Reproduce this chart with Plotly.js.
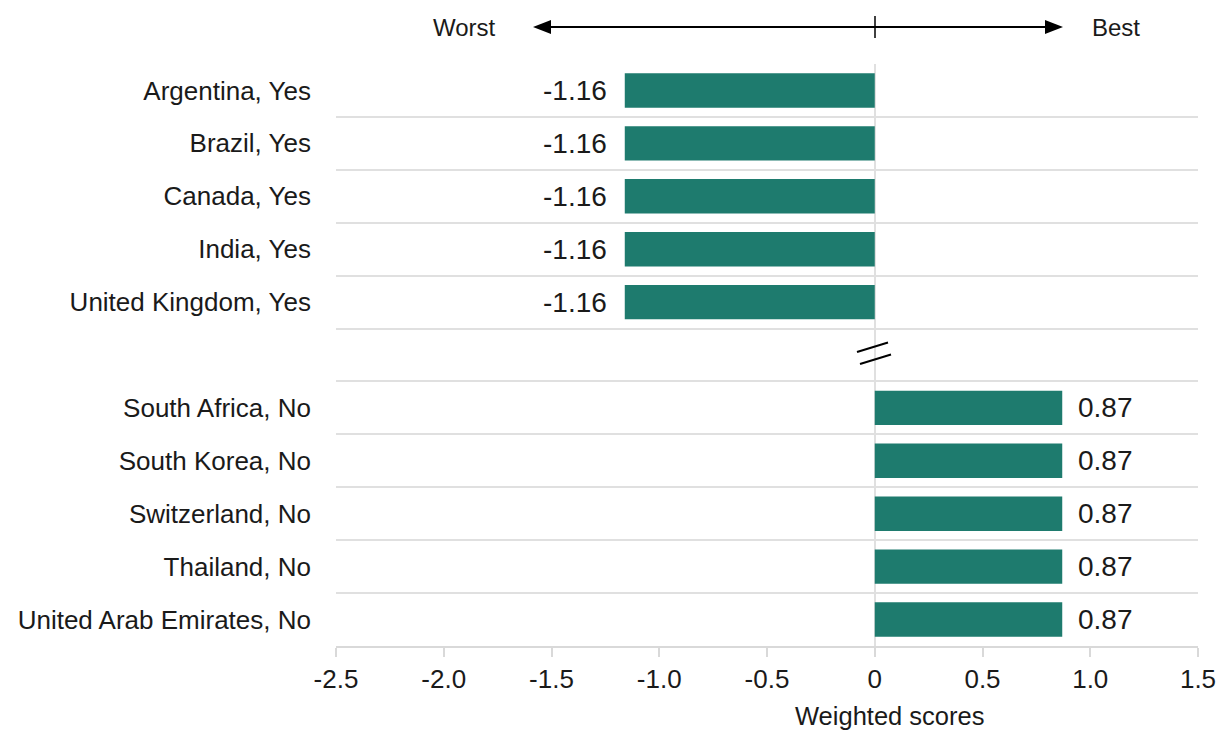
<!DOCTYPE html>
<html><head><meta charset="utf-8">
<script src="https://cdn.plot.ly/plotly-3.0.1.min.js"></script>
<style>html,body{margin:0;padding:0;background:#fff}#chart{width:1225px;height:730px}</style>
</head><body><div id="chart"></div>
<script>
// Data
const categories = ["Argentina, Yes","Brazil, Yes","Canada, Yes","India, Yes","United Kingdom, Yes",
  "South Africa, No","South Korea, No","Switzerland, No","Thailand, No","United Arab Emirates, No"];
const scores = [-1.16,-1.16,-1.16,-1.16,-1.16,0.87,0.87,0.87,0.87,0.87];
const gapLabel = " ";
const categoryOrder = ["Argentina, Yes","Brazil, Yes","Canada, Yes","India, Yes","United Kingdom, Yes",
  gapLabel,"South Africa, No","South Korea, No","Switzerland, No","Thailand, No","United Arab Emirates, No"];
const tickVals = [-2.5,-2,-1.5,-1,-0.5,0,0.5,1,1.5];
const tickText = ["-2.5","-2.0","-1.5","-1.0","-0.5","0","0.5","1.0","1.5"];

const W = 1225, H = 730, L = 336, R = 27, T = 64, B = 84;
const pw = W - L - R, ph = H - T - B;
const px = p => (p - L) / pw;          // pixel x -> paper
const py = p => (H - B - p) / ph;      // pixel y -> paper

const mainFont = "Liberation Sans, Arial, sans-serif";
const txt = "#1a1a1a";
const barColor = "#1e7b6e";

const trace = {
  type: "bar", orientation: "h",
  x: scores, y: categories,
  marker: {color: barColor},
  hoverinfo: "skip"
};

const annotations = scores.map((v, i) => ({
  x: v, y: categories[i], xref: "x", yref: "y",
  text: v.toFixed(2), showarrow: false,
  xanchor: v < 0 ? "right" : "left", yanchor: "middle",
  xshift: v < 0 ? -16 : 14, yshift: 0,
  font: {family: mainFont, size: 28, color: txt}
}));
annotations.push(
  {x: px(464), y: py(27), xref: "paper", yref: "paper", text: "Worst", showarrow: false,
   xanchor: "center", yanchor: "middle", font: {family: mainFont, size: 24, color: txt}},
  {x: px(1116), y: py(27), xref: "paper", yref: "paper", text: "Best", showarrow: false,
   xanchor: "center", yanchor: "middle", font: {family: mainFont, size: 24, color: txt}},
  {x: px(889), y: py(716), xref: "paper", yref: "paper", text: "Weighted scores", showarrow: false,
   xanchor: "center", yanchor: "middle", font: {family: mainFont, size: 25.5, color: txt}}
);

const shapes = [
  {type: "line", xref: "paper", yref: "paper", x0: px(545), x1: px(1050), y0: py(27), y1: py(27),
   line: {color: "#000", width: 2}},
  {type: "path", xref: "paper", yref: "paper",
   path: `M ${px(533)} ${py(27)} L ${px(551)} ${py(20)} L ${px(551)} ${py(34)} Z`,
   fillcolor: "#000", line: {width: 0}},
  {type: "path", xref: "paper", yref: "paper",
   path: `M ${px(1063)} ${py(27)} L ${px(1045)} ${py(20)} L ${px(1045)} ${py(34)} Z`,
   fillcolor: "#000", line: {width: 0}},
  {type: "line", xref: "paper", yref: "paper", x0: px(875), x1: px(875), y0: py(16), y1: py(38),
   line: {color: "#000", width: 1.5}},
  {type: "line", xref: "paper", yref: "paper", x0: px(857), x1: px(888), y0: py(352), y1: py(342.5),
   line: {color: "#000", width: 2}},
  {type: "line", xref: "paper", yref: "paper", x0: px(860), x1: px(891), y0: py(364), y1: py(354.5),
   line: {color: "#000", width: 2}}
];

const layout = {
  width: W, height: H,
  margin: {l: L, r: R, t: T, b: B},
  paper_bgcolor: "#fff", plot_bgcolor: "#fff",
  showlegend: false,
  bargap: 0.35,
  xaxis: {
    range: [-2.5, 1.5], tickmode: "array", tickvals: tickVals, ticktext: tickText,
    showgrid: false, zeroline: true, zerolinecolor: "#e0e0e0", zerolinewidth: 2,
    showline: true, linecolor: "#d9d9d9", linewidth: 2,
    ticks: "outside", ticklen: 9, tickwidth: 2, tickcolor: "#d9d9d9",
    tickfont: {family: mainFont, size: 26, color: txt},
    fixedrange: true
  },
  yaxis: {
    type: "category", categoryorder: "array", categoryarray: categoryOrder,
    autorange: "reversed", range: [10.5, -0.5],
    tickson: "boundaries", showgrid: true, gridcolor: "#e0e0e0", gridwidth: 2,
    ticks: "", showline: false, zeroline: false,
    ticklabelstandoff: 24,
    tickfont: {family: mainFont, size: 26, color: txt},
    fixedrange: true
  },
  annotations: annotations,
  shapes: shapes
};

Plotly.newPlot("chart", [trace], layout, {displayModeBar: false, staticPlot: true});
</script></body></html>
